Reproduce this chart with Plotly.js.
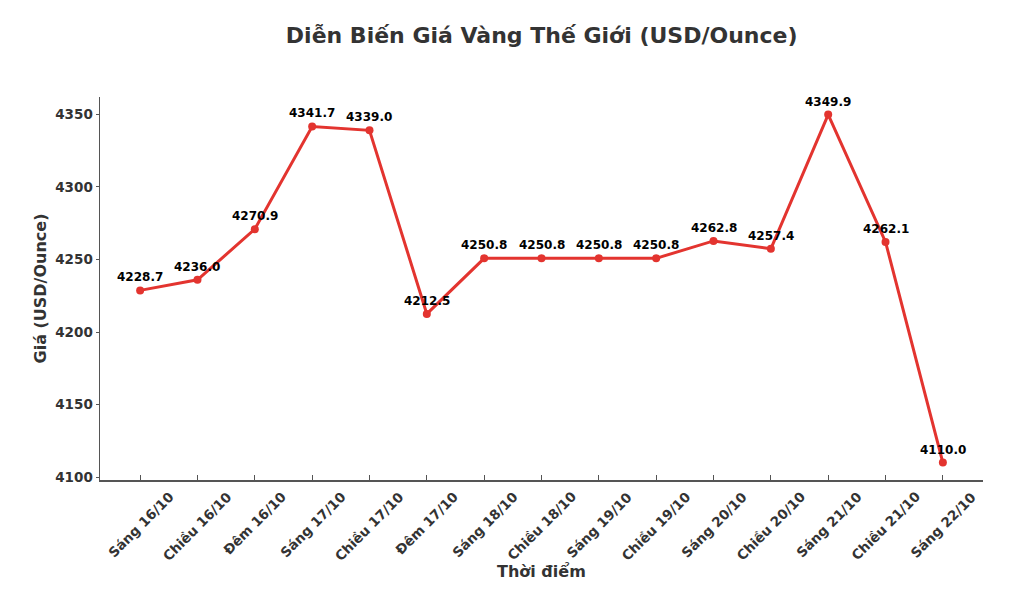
<!DOCTYPE html>
<html><head><meta charset="utf-8">
<script src="https://cdn.plot.ly/plotly-3.0.1.min.js"></script>
<style>html,body{margin:0;padding:0;background:#fff}#chart{width:1024px;height:590px}</style>
</head><body><div id="chart"></div>
<script>
const categories = ["Sáng 16/10","Chiều 16/10","Đêm 16/10","Sáng 17/10","Chiều 17/10","Đêm 17/10","Sáng 18/10","Chiều 18/10","Sáng 19/10","Chiều 19/10","Sáng 20/10","Chiều 20/10","Sáng 21/10","Chiều 21/10","Sáng 22/10"];
const prices = [4228.7,4236.0,4270.9,4341.7,4339.0,4212.5,4250.8,4250.8,4250.8,4250.8,4262.8,4257.4,4349.9,4262.1,4110.0];
const yTicks = [4100,4150,4200,4250,4300,4350];

const F = "DejaVu Sans, Verdana, sans-serif";
const idx = categories.map((_, i) => i);

const trace = {
  x: idx, y: prices, type: "scatter", mode: "lines+markers",
  line: {color: "#e3342f", width: 3},
  marker: {color: "#e3342f", size: 8},
  hoverinfo: "skip"
};

const valueLabels = prices.map((v, i) => ({
  x: i, y: v, xref: "x", yref: "y", text: v.toFixed(1), showarrow: false,
  yshift: 13, font: {family: F, size: 12, color: "#000", weight: "bold"}
}));

const catLabels = categories.map((c, i) => ({
  x: i, y: 0, xref: "x", yref: "paper", text: c, showarrow: false,
  textangle: -45, xanchor: "center", yanchor: "top", yshift: -6,
  font: {family: F, size: 13.5, color: "#333", weight: "bold"}
}));

const layout = {
  width: 1024, height: 590,
  margin: {l: 100, r: 41, t: 97, b: 110},
  paper_bgcolor: "#fff", plot_bgcolor: "#fff",
  showlegend: false,
  title: {text: "Diễn Biến Giá Vàng Thế Giới (USD/Ounce)", x: 0.529, xanchor: "center", y: 0.94, yanchor: "middle",
          font: {family: F, size: 22, color: "#333", weight: "bold"}},
  xaxis: {
    range: [-0.7, 14.7], tickmode: "array", tickvals: idx, showticklabels: false,
    showline: true, linecolor: "#555", linewidth: 1.5,
    ticks: "inside", ticklen: 5, tickcolor: "#555", tickwidth: 1,
    showgrid: false, zeroline: false
  },
  yaxis: {
    range: [4098.0, 4362.0], tickmode: "array", tickvals: yTicks,
    showline: true, linecolor: "#555", linewidth: 1.5,
    ticks: "outside", ticklen: 3, tickcolor: "#555", tickwidth: 1,
    showgrid: false, zeroline: false,
    tickfont: {family: F, size: 13.5, color: "#333", weight: "bold"},
    title: {text: "Giá (USD/Ounce)", standoff: 4, font: {family: F, size: 16, color: "#333", weight: "bold"}}
  },
  annotations: valueLabels.concat(catLabels, [{
    x: 0.5, y: 0, xref: "paper", yref: "paper", xanchor: "center", yanchor: "middle", yshift: -91,
    text: "Thời điểm", showarrow: false, font: {family: F, size: 16, color: "#333", weight: "bold"}
  }])
};

Plotly.newPlot("chart", [trace], layout, {displayModeBar: false, staticPlot: true});
</script></body></html>
